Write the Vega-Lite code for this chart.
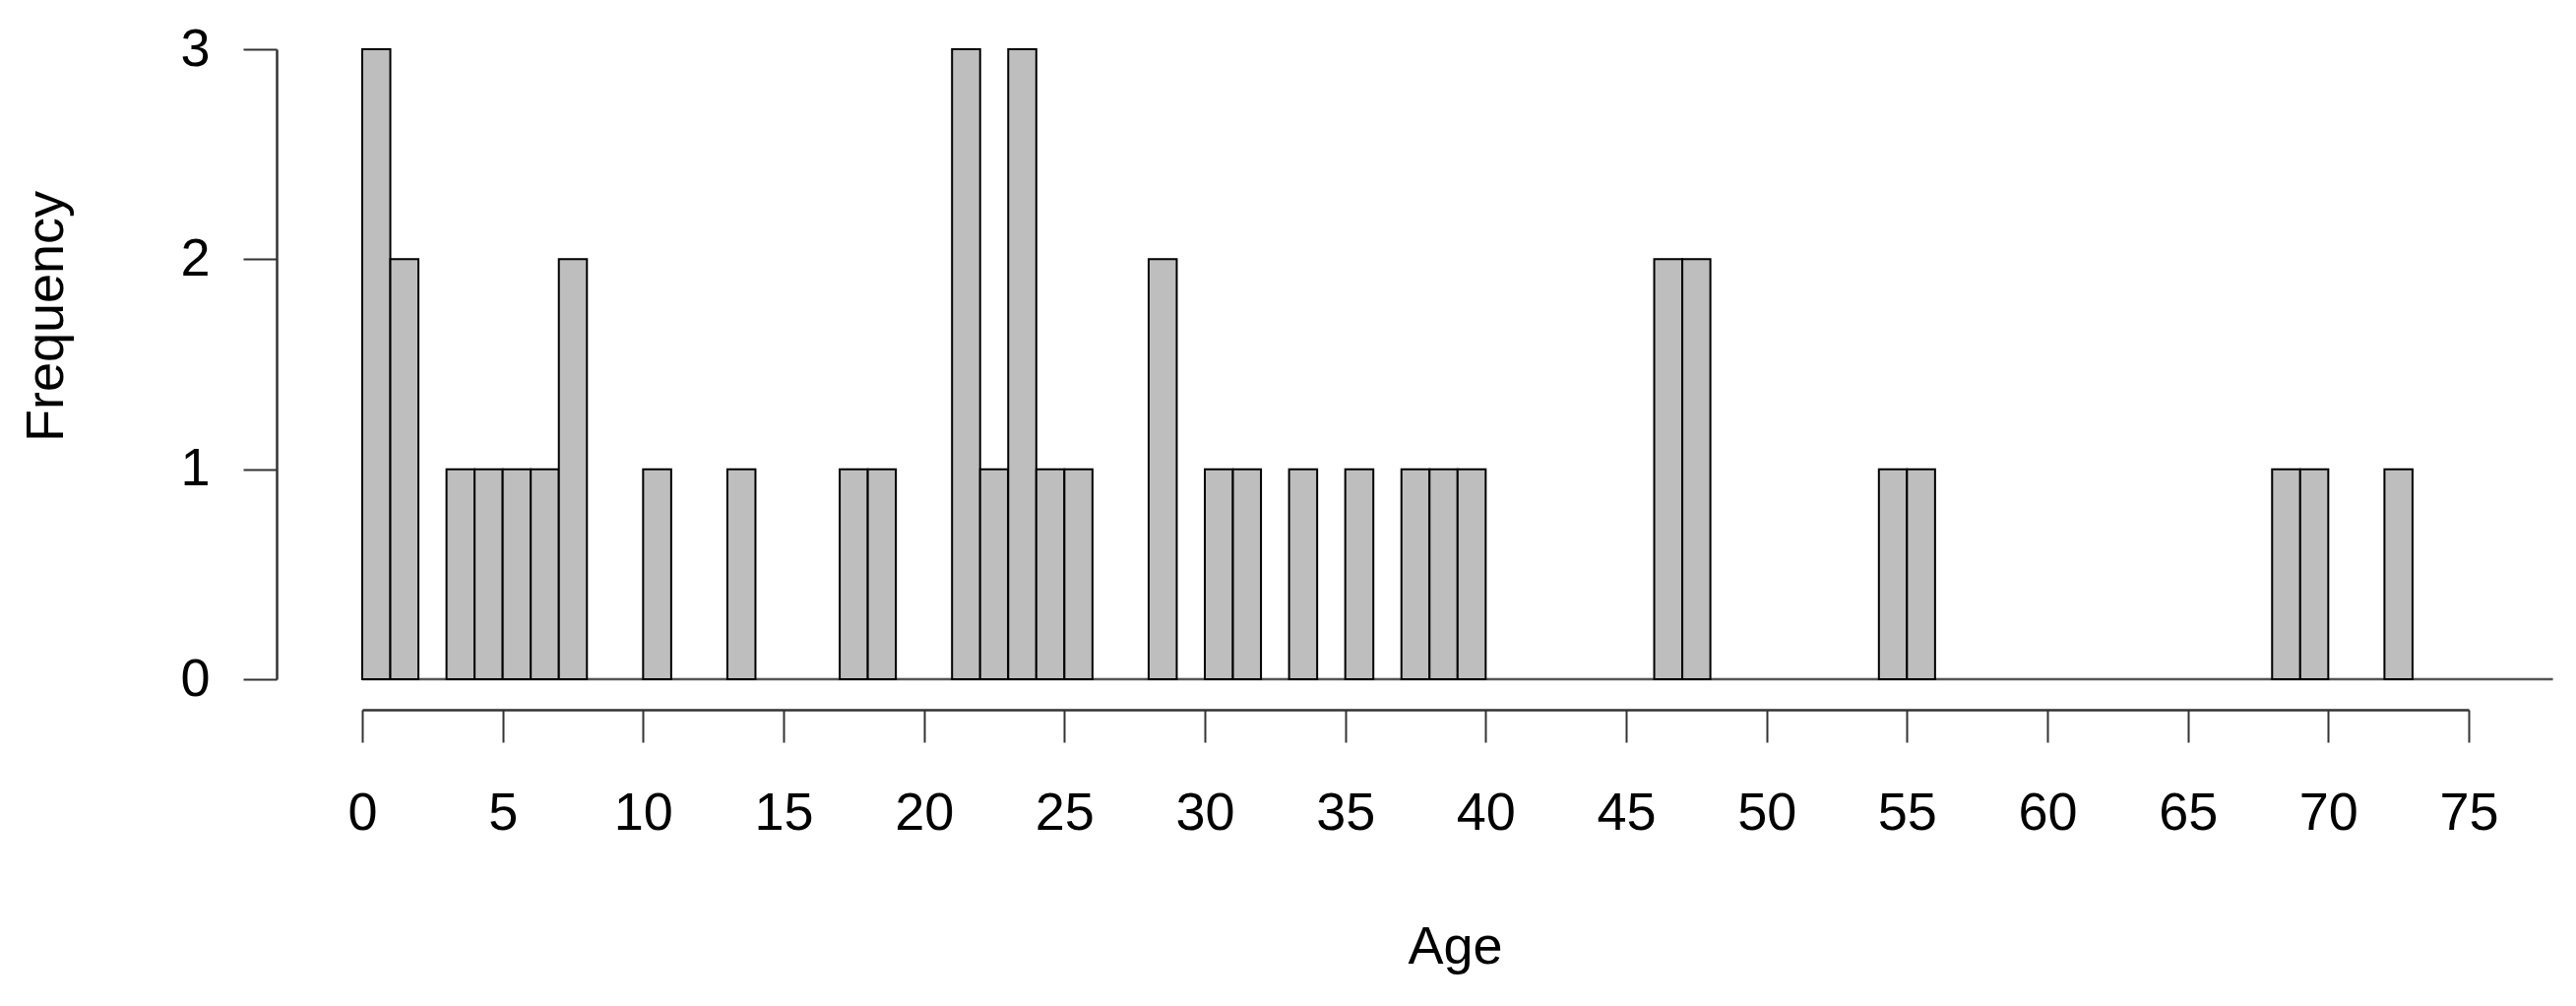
{
  "$schema": "https://vega.github.io/schema/vega-lite/v6.json",
  "autosize": {"type": "none"},
  "padding": {"left": 368, "top": 50, "right": 109, "bottom": 332},
  "width": 2140,
  "height": 640,
  "background": "white",
  "config": {
    "view": {"stroke": null},
    "font": "Liberation Sans"
  },
  "datasets": {
    "bins": [
      {"start": 0, "end": 1, "count": 3},
      {"start": 1, "end": 2, "count": 2},
      {"start": 3, "end": 4, "count": 1},
      {"start": 4, "end": 5, "count": 1},
      {"start": 5, "end": 6, "count": 1},
      {"start": 6, "end": 7, "count": 1},
      {"start": 7, "end": 8, "count": 2},
      {"start": 10, "end": 11, "count": 1},
      {"start": 13, "end": 14, "count": 1},
      {"start": 17, "end": 18, "count": 1},
      {"start": 18, "end": 19, "count": 1},
      {"start": 21, "end": 22, "count": 3},
      {"start": 22, "end": 23, "count": 1},
      {"start": 23, "end": 24, "count": 3},
      {"start": 24, "end": 25, "count": 1},
      {"start": 25, "end": 26, "count": 1},
      {"start": 28, "end": 29, "count": 2},
      {"start": 30, "end": 31, "count": 1},
      {"start": 31, "end": 32, "count": 1},
      {"start": 33, "end": 34, "count": 1},
      {"start": 35, "end": 36, "count": 1},
      {"start": 37, "end": 38, "count": 1},
      {"start": 38, "end": 39, "count": 1},
      {"start": 39, "end": 40, "count": 1},
      {"start": 46, "end": 47, "count": 2},
      {"start": 47, "end": 48, "count": 2},
      {"start": 54, "end": 55, "count": 1},
      {"start": 55, "end": 56, "count": 1},
      {"start": 68, "end": 69, "count": 1},
      {"start": 69, "end": 70, "count": 1},
      {"start": 72, "end": 73, "count": 1}
    ],
    "base": [{"from": 0, "to": 78, "level": 0}]
  },
  "layer": [
    {
      "data": {"name": "base"},
      "mark": {"type": "rule", "color": "#555555", "strokeWidth": 2.5, "clip": false},
      "encoding": {
        "x": {"field": "from", "type": "quantitative", "scale": {"domain": [0, 75], "nice": false, "zero": false},
          "axis": {
            "title": "Age",
            "values": [0, 5, 10, 15, 20, 25, 30, 35, 40, 45, 50, 55, 60, 65, 70, 75],
            "format": "d",
            "offset": 31,
            "grid": false,
            "domainColor": "#333333",
            "domainWidth": 2.5,
            "tickColor": "#333333",
            "tickWidth": 2,
            "tickSize": 33,
            "labelFontSize": 54,
            "labelColor": "#000000",
            "labelPadding": 45,
            "labelFlush": false,
            "labelOverlap": false,
            "titleFontSize": 54,
            "titleFontWeight": "normal",
            "titleColor": "#000000",
            "titleX": 1110,
            "titleY": 257,
            "titleBaseline": "alphabetic"
          }},
        "x2": {"field": "to"},
        "y": {"field": "level", "type": "quantitative", "scale": {"domain": [0, 3], "nice": false},
          "axis": {
            "title": "Frequency",
            "values": [0, 1, 2, 3],
            "format": "d",
            "offset": 87,
            "grid": false,
            "domainColor": "#333333",
            "domainWidth": 2.5,
            "tickColor": "#333333",
            "tickWidth": 2,
            "tickSize": 34,
            "labelFontSize": 54,
            "labelColor": "#000000",
            "labelPadding": 34,
            "labelFlush": false,
            "labelOverlap": false,
            "titleFontSize": 54,
            "titleFontWeight": "normal",
            "titleColor": "#000000",
            "titleX": -218,
            "titleY": 271,
            "titleBaseline": "alphabetic"
          }}
      }
    },
    {
      "data": {"name": "bins"},
      "mark": {"type": "bar", "fill": "#BEBEBE", "stroke": "#000000", "strokeWidth": 2, "clip": false},
      "encoding": {
        "x": {"field": "start", "type": "quantitative"},
        "x2": {"field": "end"},
        "y": {"field": "count", "type": "quantitative"},
        "y2": {"datum": 0}
      }
    }
  ]
}
